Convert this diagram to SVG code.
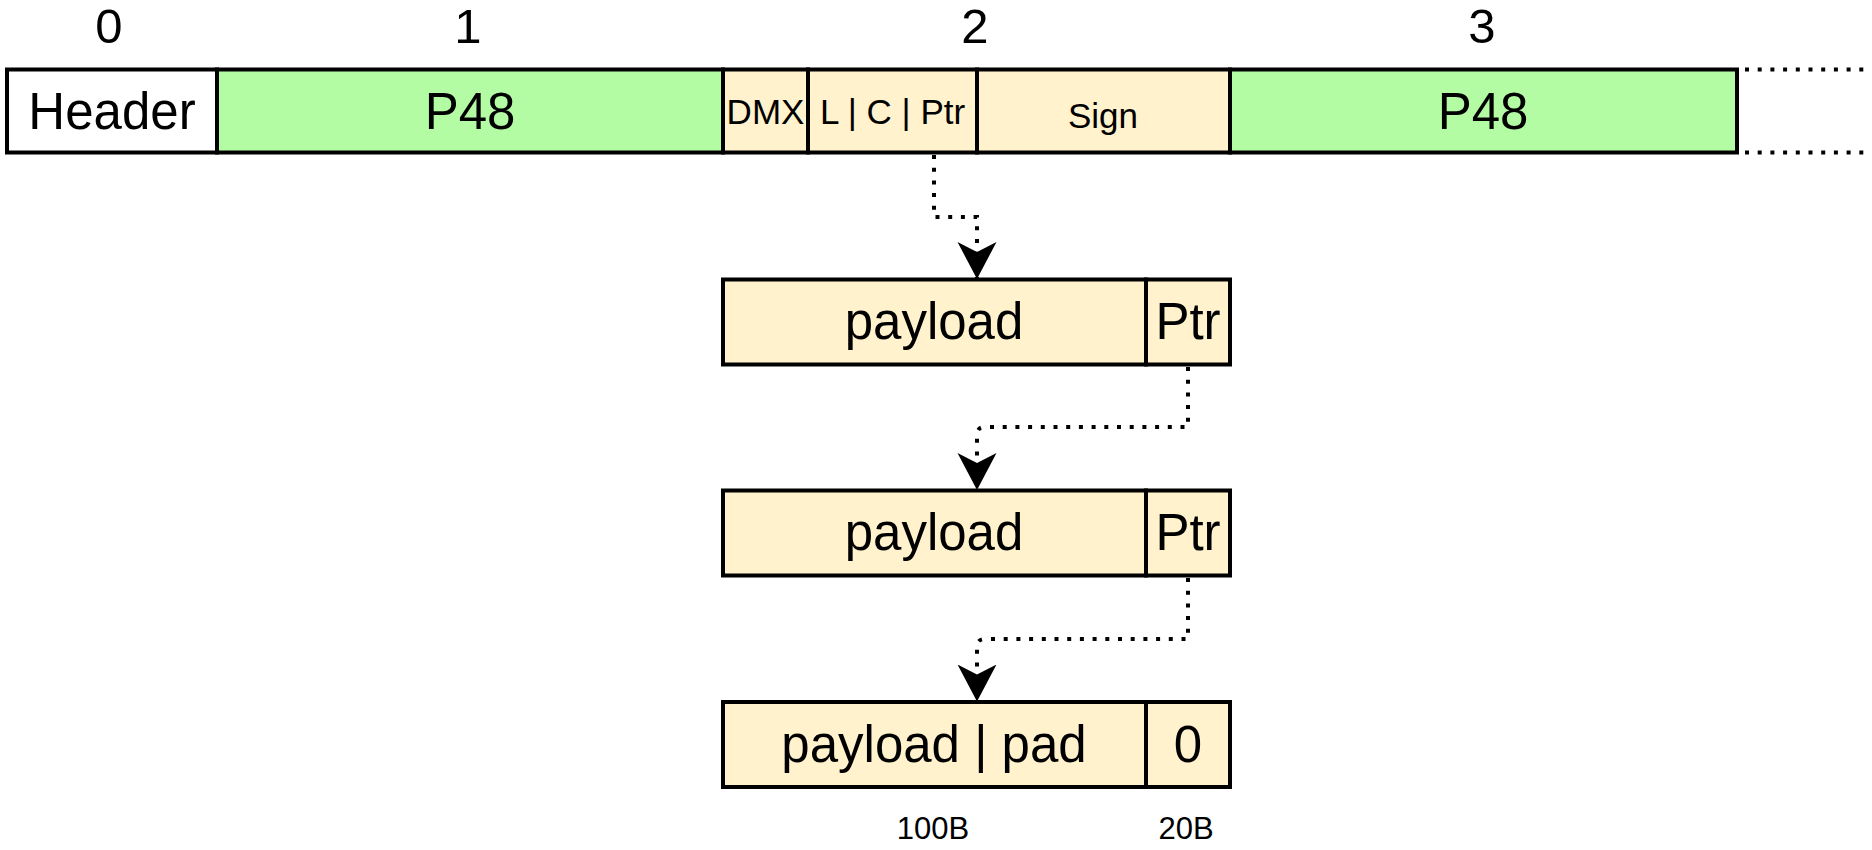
<svg xmlns="http://www.w3.org/2000/svg" width="1872" height="850" viewBox="0 0 1872 850">
<defs>
<style>
text{font-family:"Liberation Sans",Arial,Helvetica,sans-serif;fill:#000;text-anchor:middle}
.cell{stroke:#000;stroke-width:4}
.g{fill:#B3FCA4}
.y{fill:#FFF2CC}
.w{fill:#FFFFFF}
.big{font-size:51px}
.mid{font-size:35px}
.num{font-size:49px}
.sm{font-size:31px}
.dot{fill:none;stroke:#000;stroke-width:4;stroke-dasharray:4 8.7}
</style>
<marker id="arr" markerUnits="userSpaceOnUse" markerWidth="40" markerHeight="42" refX="37" refY="19.5" orient="auto">
<path d="M0,0 L37,19.5 L0,39 L10,19.5 Z" fill="#000"/>
</marker>
</defs>
<g id="labels">
<text class="num" x="109" y="43">0</text>
<text class="num" x="468" y="43">1</text>
<text class="num" x="975" y="43">2</text>
<text class="num" x="1482" y="43">3</text>
</g>
<g id="row">
<g id="header"><rect class="cell w" x="7" y="69.5" width="210" height="83"/><text class="big" x="112" y="129">Header</text></g>
<g id="p48a"><rect class="cell g" x="217" y="69.5" width="506" height="83"/><text class="big" x="470" y="129">P48</text></g>
<g id="dmx"><rect class="cell y" x="723" y="69.5" width="85" height="83"/><text class="mid" x="765.5" y="124">DMX</text></g>
<g id="lcptr"><rect class="cell y" x="808" y="69.5" width="169" height="83"/><text class="mid" x="892.5" y="124">L | C | Ptr</text></g>
<g id="sign"><rect class="cell y" x="977" y="69.5" width="253" height="83"/><text class="mid" x="1103" y="128">Sign</text></g>
<g id="p48b"><rect class="cell g" x="1230" y="69.5" width="507" height="83"/><text class="big" x="1483" y="129">P48</text></g>
</g>
<g id="block1">
<rect class="cell y" x="723" y="279.5" width="423" height="85"/><text class="big" x="934" y="339">payload</text>
<rect class="cell y" x="1146" y="279.5" width="84" height="85"/><text class="big" x="1188" y="339">Ptr</text>
</g>
<g id="block2">
<rect class="cell y" x="723" y="490.5" width="423" height="85"/><text class="big" x="934" y="550">payload</text>
<rect class="cell y" x="1146" y="490.5" width="84" height="85"/><text class="big" x="1188" y="550">Ptr</text>
</g>
<g id="block3">
<rect class="cell y" x="723" y="702" width="423" height="85"/><text class="big" x="934" y="762">payload | pad</text>
<rect class="cell y" x="1146" y="702" width="84" height="85"/><text class="big" x="1188" y="762">0</text>
</g>
<g id="sizes">
<text class="sm" x="933" y="839">100B</text>
<text class="sm" x="1186" y="839">20B</text>
</g>
<g id="connectors">
<path class="dot" d="M1745,69.5 H1868"/>
<path class="dot" d="M1745,152.5 H1868"/>
<path class="dot" d="M934,155 V217 H977 V279" marker-end="url(#arr)"/>
<path class="dot" d="M1188,367 V427 H985 Q977,427 977,435 V490" marker-end="url(#arr)"/>
<path class="dot" d="M1188,578 V639 H985 Q977,639 977,647 V701.5" marker-end="url(#arr)"/>
</g>
</svg>
